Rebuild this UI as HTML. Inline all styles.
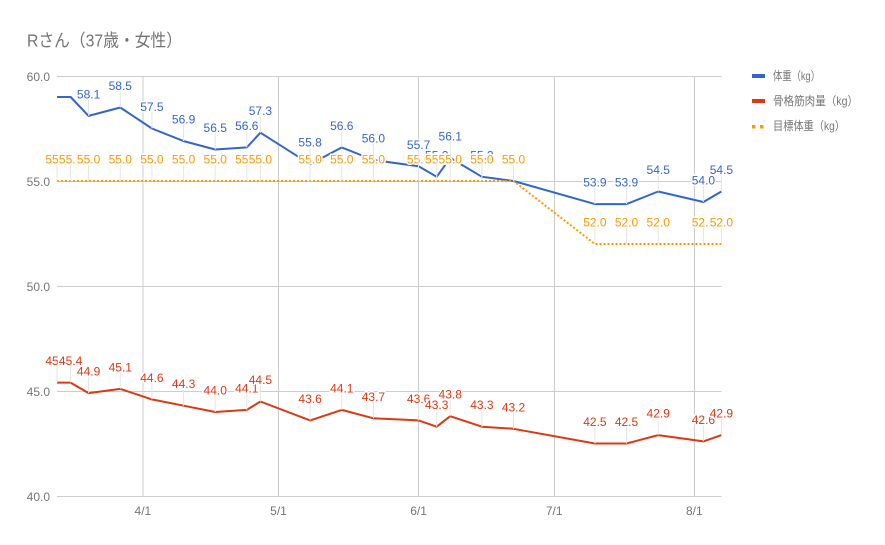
<!DOCTYPE html>
<html><head><meta charset="utf-8">
<style>
html,body{margin:0;padding:0;background:#fff;}
svg{display:block;}
text{font-family:"Liberation Sans","Noto Sans CJK JP",sans-serif;}
</style></head>
<body>
<svg width="885" height="545" viewBox="0 0 885 545" xmlns="http://www.w3.org/2000/svg">
<rect x="0" y="0" width="885" height="545" fill="#fff"/>
<text x="27" y="46.5" font-size="17.5" fill="#757575" textLength="155" lengthAdjust="spacingAndGlyphs">Rさん（37歳・女性）</text>

<g fill="#cccccc" shape-rendering="crispEdges">
<rect x="57" y="76" width="664.4" height="1"/>
<rect x="57" y="181" width="664.4" height="1"/>
<rect x="57" y="286" width="664.4" height="1"/>
<rect x="57" y="391" width="664.4" height="1"/>
<rect x="57" y="496" width="664.4" height="1"/>
<rect x="142.5" y="76" width="1" height="420"/>
<rect x="278" y="76" width="1" height="420"/>
<rect x="418" y="76" width="1" height="420"/>
<rect x="554" y="76" width="1" height="420"/>
<rect x="694" y="76" width="1" height="420"/>
</g>

<g font-size="12" fill="#757575" text-anchor="end">
<text x="50" y="81">60.0</text>
<text x="50" y="186">55.0</text>
<text x="50" y="291">50.0</text>
<text x="50" y="396">45.0</text>
<text x="50" y="501">40.0</text>
</g>
<g font-size="12" fill="#757575" text-anchor="middle">
<text x="142.9" y="515">4/1</text>
<text x="278.5" y="515">5/1</text>
<text x="418.6" y="515">6/1</text>
<text x="554.2" y="515">7/1</text>
<text x="694.3" y="515">8/1</text>
</g>

<polyline fill="none" stroke="#3366cc" stroke-width="2" stroke-linejoin="round" points="57,97 70.6,97 88.6,115.9 120.3,107.5 151.9,128.5 183.6,141.1 215.2,149.5 246.8,147.4 260.4,132.7 310.1,164.2 341.8,147.4 373.4,160 418.6,166.3 436.7,176.8 450.2,157.9 481.9,176.8 513.5,181 594.9,204.1 626.5,204.1 658.2,191.5 703.4,202 721.4,191.5"/>
<polyline fill="none" stroke="#dc3912" stroke-width="2" stroke-linejoin="round" points="57,382.6 70.6,382.6 88.6,393.1 120.3,388.9 151.9,399.4 183.6,405.7 215.2,412 246.8,409.9 260.4,401.5 310.1,420.4 341.8,409.9 373.4,418.3 418.6,420.4 436.7,426.7 450.2,416.2 481.9,426.7 513.5,428.8 594.9,443.5 626.5,443.5 658.2,435.1 703.4,441.4 721.4,435.1"/>
<polyline fill="none" stroke="#ff9900" stroke-width="2" stroke-dasharray="2 2" points="57,181 513.5,181 594.9,244 721.4,244"/>

<g font-size="12" text-anchor="middle" fill="#3366cc" stroke="#fff" stroke-width="3" stroke-linejoin="round" paint-order="stroke">
<text x="88.6" y="98.4">58.1</text>
<text x="120.3" y="90">58.5</text>
<text x="151.9" y="111">57.5</text>
<text x="183.6" y="123.6">56.9</text>
<text x="215.2" y="132">56.5</text>
<text x="246.8" y="129.9">56.6</text>
<text x="260.4" y="115.2">57.3</text>
<text x="310.1" y="146.7">55.8</text>
<text x="341.8" y="129.9">56.6</text>
<text x="373.4" y="142.5">56.0</text>
<text x="418.6" y="148.8">55.7</text>
<text x="436.7" y="159.3">55.2</text>
<text x="450.2" y="140.4">56.1</text>
<text x="481.9" y="159.3">55.2</text>
<text x="513.5" y="163.5">55.0</text>
<text x="594.9" y="186.6">53.9</text>
<text x="626.5" y="186.6">53.9</text>
<text x="658.2" y="174">54.5</text>
<text x="703.4" y="184.5">54.0</text>
<text x="721.4" y="174">54.5</text>
</g>

<g font-size="12" text-anchor="middle" fill="#dc3912" stroke="#fff" stroke-width="3" stroke-linejoin="round" paint-order="stroke">
<text x="57" y="365.1">45.4</text>
<text x="70.6" y="365.1">45.4</text>
<text x="88.6" y="375.6">44.9</text>
<text x="120.3" y="371.4">45.1</text>
<text x="151.9" y="381.9">44.6</text>
<text x="183.6" y="388.2">44.3</text>
<text x="215.2" y="394.5">44.0</text>
<text x="246.8" y="392.4">44.1</text>
<text x="260.4" y="384">44.5</text>
<text x="310.1" y="402.9">43.6</text>
<text x="341.8" y="392.4">44.1</text>
<text x="373.4" y="400.8">43.7</text>
<text x="418.6" y="402.9">43.6</text>
<text x="436.7" y="409.2">43.3</text>
<text x="450.2" y="398.7">43.8</text>
<text x="481.9" y="409.2">43.3</text>
<text x="513.5" y="411.3">43.2</text>
<text x="594.9" y="426">42.5</text>
<text x="626.5" y="426">42.5</text>
<text x="658.2" y="417.6">42.9</text>
<text x="703.4" y="423.9">42.6</text>
<text x="721.4" y="417.6">42.9</text>
</g>

<g font-size="12" text-anchor="middle" fill="#ff9900" stroke="#fff" stroke-width="3" stroke-linejoin="round" paint-order="stroke">
<text x="57" y="163.5">55.0</text>
<text x="70.6" y="163.5">55.0</text>
<text x="88.6" y="163.5">55.0</text>
<text x="120.3" y="163.5">55.0</text>
<text x="151.9" y="163.5">55.0</text>
<text x="183.6" y="163.5">55.0</text>
<text x="215.2" y="163.5">55.0</text>
<text x="246.8" y="163.5">55.0</text>
<text x="260.4" y="163.5">55.0</text>
<text x="310.1" y="163.5">55.0</text>
<text x="341.8" y="163.5">55.0</text>
<text x="373.4" y="163.5">55.0</text>
<text x="418.6" y="163.5">55.0</text>
<text x="436.7" y="163.5">55.0</text>
<text x="450.2" y="163.5">55.0</text>
<text x="481.9" y="163.5">55.0</text>
<text x="513.5" y="163.5">55.0</text>
<text x="594.9" y="226.5">52.0</text>
<text x="626.5" y="226.5">52.0</text>
<text x="658.2" y="226.5">52.0</text>
<text x="703.4" y="226.5">52.0</text>
<text x="721.4" y="226.5">52.0</text>
</g>

<g fill="none" stroke="#e4e4e4" stroke-width="1">
<path d="M88.6 115.9V99.9M120.3 107.5V91.5M151.9 128.5V112.5M183.6 141.1V125.1M215.2 149.5V133.5M246.8 147.4V131.4M260.4 132.7V116.7M310.1 164.2V148.2M341.8 147.4V131.4M373.4 160V144M418.6 166.3V150.3M436.7 176.8V160.8M450.2 157.9V141.9M481.9 176.8V160.8M513.5 181V165M594.9 204.1V188.1M626.5 204.1V188.1M658.2 191.5V175.5M703.4 202V186M721.4 191.5V175.5"/>
<path d="M57 382.6V366.6M70.6 382.6V366.6M88.6 393.1V377.1M120.3 388.9V372.9M151.9 399.4V383.4M183.6 405.7V389.7M215.2 412V396M246.8 409.9V393.9M260.4 401.5V385.5M310.1 420.4V404.4M341.8 409.9V393.9M373.4 418.3V402.3M418.6 420.4V404.4M436.7 426.7V410.7M450.2 416.2V400.2M481.9 426.7V410.7M513.5 428.8V412.8M594.9 443.5V427.5M626.5 443.5V427.5M658.2 435.1V419.1M703.4 441.4V425.4M721.4 435.1V419.1"/>
<path d="M57 181V165M70.6 181V165M88.6 181V165M120.3 181V165M151.9 181V165M183.6 181V165M215.2 181V165M246.8 181V165M260.4 181V165M310.1 181V165M341.8 181V165M373.4 181V165M418.6 181V165M436.7 181V165M450.2 181V165M481.9 181V165M513.5 181V165M594.9 244V228M626.5 244V228M658.2 244V228M703.4 244V228M721.4 244V228"/>
</g>

<rect x="752" y="74" width="13" height="4" fill="#3366cc"/>
<rect x="752" y="99" width="13" height="4" fill="#dc3912"/>
<rect x="752" y="125" width="3.5" height="3.5" fill="#ff9900"/>
<rect x="760" y="125" width="3.5" height="3.5" fill="#ff9900"/>
<g font-size="12" fill="#757575">
<text x="773" y="80" textLength="47" lengthAdjust="spacingAndGlyphs">体重（kg）</text>
<text x="773" y="105" textLength="85" lengthAdjust="spacingAndGlyphs">骨格筋肉量（kg）</text>
<text x="773" y="130" textLength="72" lengthAdjust="spacingAndGlyphs">目標体重（kg）</text>
</g>
</svg>
</body></html>
